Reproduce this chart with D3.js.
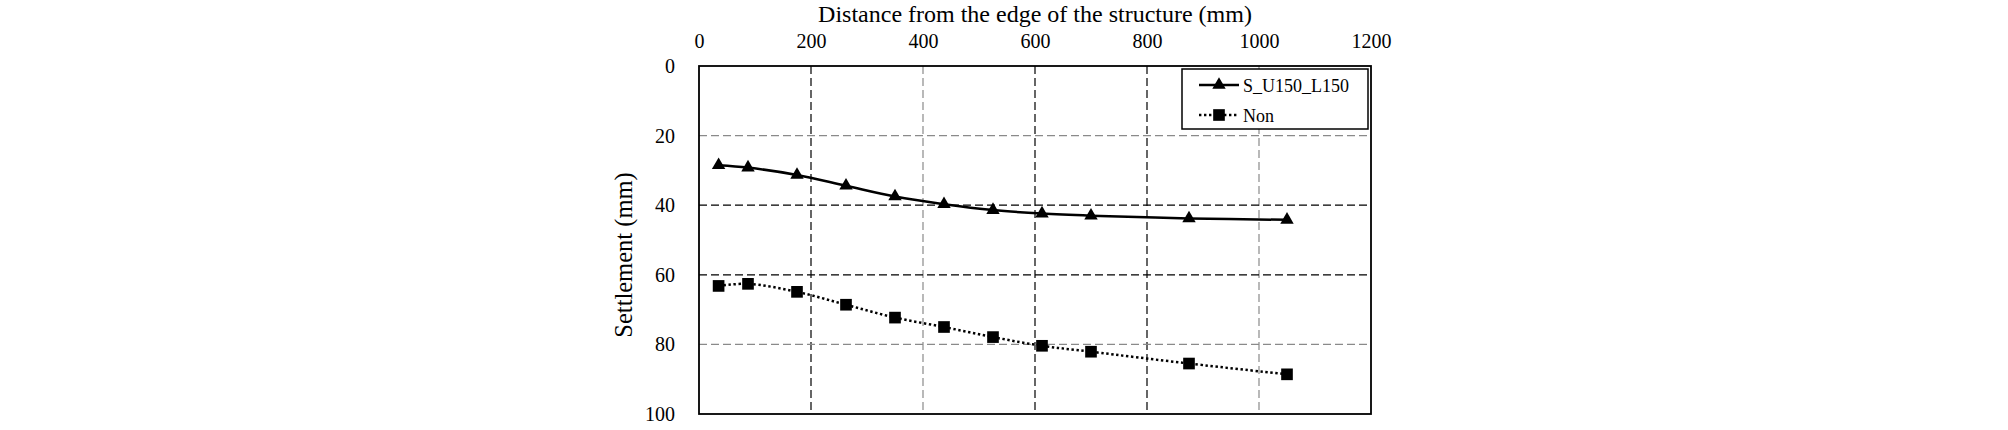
<!DOCTYPE html>
<html>
<head>
<meta charset="utf-8">
<script src="https://cdn.jsdelivr.net/npm/d3@7"></script>
<style>
  html, body { margin: 0; padding: 0; background: #fff; }
  svg text { font-family: "Liberation Serif", "Times New Roman", serif; fill: #000; }
</style>
</head>
<body>
<svg id="chart" width="2008" height="430"></svg>
<script>
// ---- data ----
const distance = [35, 87.5, 175, 262.5, 350, 437.5, 525, 612.5, 700, 875, 1050];
const settlementSU150L150 = [28.5, 29.2, 31.3, 34.4, 37.5, 39.7, 41.4, 42.4, 43.0, 43.8, 44.2];
const settlementNon = [63.2, 62.6, 64.9, 68.6, 72.3, 75.0, 77.9, 80.4, 82.1, 85.5, 88.6];
const seriesNames = ["S_U150_L150", "Non"];
const xTicks = [0, 200, 400, 600, 800, 1000, 1200];
const yTicks = [0, 20, 40, 60, 80, 100];
const xTitle = "Distance from the edge of the structure (mm)";
const yTitle = "Settlement (mm)";

// ---- layout ----
const plot = { left: 699, right: 1371, top: 66, bottom: 414 };
const svg = d3.select("#chart");

const x = d3.scaleLinear().domain([0, 1200]).range([plot.left, plot.right]);
const y = d3.scaleLinear().domain([0, 100]).range([plot.top, plot.bottom]);

// grid lines
const darkX = new Set([200, 600, 800]);
const darkY = new Set([40, 60]);
const grid = svg.append("g");
grid.selectAll("line.vx").data(xTicks.filter(d => d > 0 && d < 1200)).enter().append("line")
  .attr("x1", d => x(d)).attr("x2", d => x(d))
  .attr("y1", plot.top).attr("y2", plot.bottom)
  .attr("stroke", d => darkX.has(d) ? "#000" : "#8a8a8a")
  .attr("stroke-width", 1.2).attr("stroke-dasharray", "8,4");
grid.selectAll("line.hy").data(yTicks.filter(d => d > 0 && d < 100)).enter().append("line")
  .attr("x1", plot.left).attr("x2", plot.right)
  .attr("y1", d => y(d)).attr("y2", d => y(d))
  .attr("stroke", d => darkY.has(d) ? "#000" : "#8a8a8a")
  .attr("stroke-width", 1.2).attr("stroke-dasharray", "8,4");

// axes
const xAxis = svg.append("g").attr("transform", `translate(0,${plot.top})`)
  .call(d3.axisTop(x).tickValues(xTicks).tickFormat(d3.format("d")).tickSize(0).tickPadding(18));
const yAxis = svg.append("g").attr("transform", `translate(${plot.left},0)`)
  .call(d3.axisLeft(y).tickValues(yTicks).tickFormat(d3.format("d")).tickSize(0).tickPadding(24));
[xAxis, yAxis].forEach(a => {
  a.attr("font-family", null).attr("font-size", null);
  a.select(".domain").remove();
  a.selectAll("text").attr("font-size", 20).attr("fill", "#000");
});

// plot border
svg.append("rect")
  .attr("x", plot.left).attr("y", plot.top)
  .attr("width", plot.right - plot.left).attr("height", plot.bottom - plot.top)
  .attr("fill", "none").attr("stroke", "#000").attr("stroke-width", 1.8);

// titles
svg.append("text").attr("x", (plot.left + plot.right) / 2).attr("y", 22)
  .attr("text-anchor", "middle").attr("font-size", 24).text(xTitle);
svg.append("text").attr("transform", `translate(632,255) rotate(-90)`)
  .attr("text-anchor", "middle").attr("font-size", 24.5).text(yTitle);

// series
const line = d3.line().x(d => x(d[0])).y(d => y(d[1])).curve(d3.curveCatmullRom.alpha(0.5));
const dataA = distance.map((d, i) => [d, settlementSU150L150[i]]);
const dataB = distance.map((d, i) => [d, settlementNon[i]]);

svg.append("path").datum(dataA).attr("d", line)
  .attr("fill", "none").attr("stroke", "#000").attr("stroke-width", 2.5);
svg.append("path").datum(dataB).attr("d", line)
  .attr("fill", "none").attr("stroke", "#000").attr("stroke-width", 2.5)
  .attr("stroke-dasharray", "2.4,2.6");

const tri = d3.symbol().type(d3.symbolTriangle).size(78);
const sq = d3.symbol().type(d3.symbolSquare).size(136);
svg.selectAll("path.tri").data(dataA).enter().append("path")
  .attr("d", tri).attr("transform", d => `translate(${x(d[0])},${y(d[1])})`).attr("fill", "#000");
svg.selectAll("path.sq").data(dataB).enter().append("path")
  .attr("d", sq).attr("transform", d => `translate(${x(d[0])},${y(d[1])})`).attr("fill", "#000");

// legend
const lg = svg.append("g");
lg.append("rect").attr("x", 1182).attr("y", 69).attr("width", 186).attr("height", 60)
  .attr("fill", "#fff").attr("stroke", "#000").attr("stroke-width", 1.5);
const rows = [
  { name: seriesNames[0], y: 85, dash: null, sym: tri },
  { name: seriesNames[1], y: 115, dash: "2.4,2.6", sym: sq }
];
rows.forEach(r => {
  const l = lg.append("line").attr("x1", 1199).attr("x2", 1239).attr("y1", r.y).attr("y2", r.y)
    .attr("stroke", "#000").attr("stroke-width", 2.5);
  if (r.dash) l.attr("stroke-dasharray", r.dash);
  lg.append("path").attr("d", r.sym).attr("transform", `translate(1219,${r.y})`).attr("fill", "#000");
  lg.append("text").attr("x", 1243).attr("y", r.y + 6.5).attr("font-size", 18).text(r.name);
});
</script>
</body>
</html>
